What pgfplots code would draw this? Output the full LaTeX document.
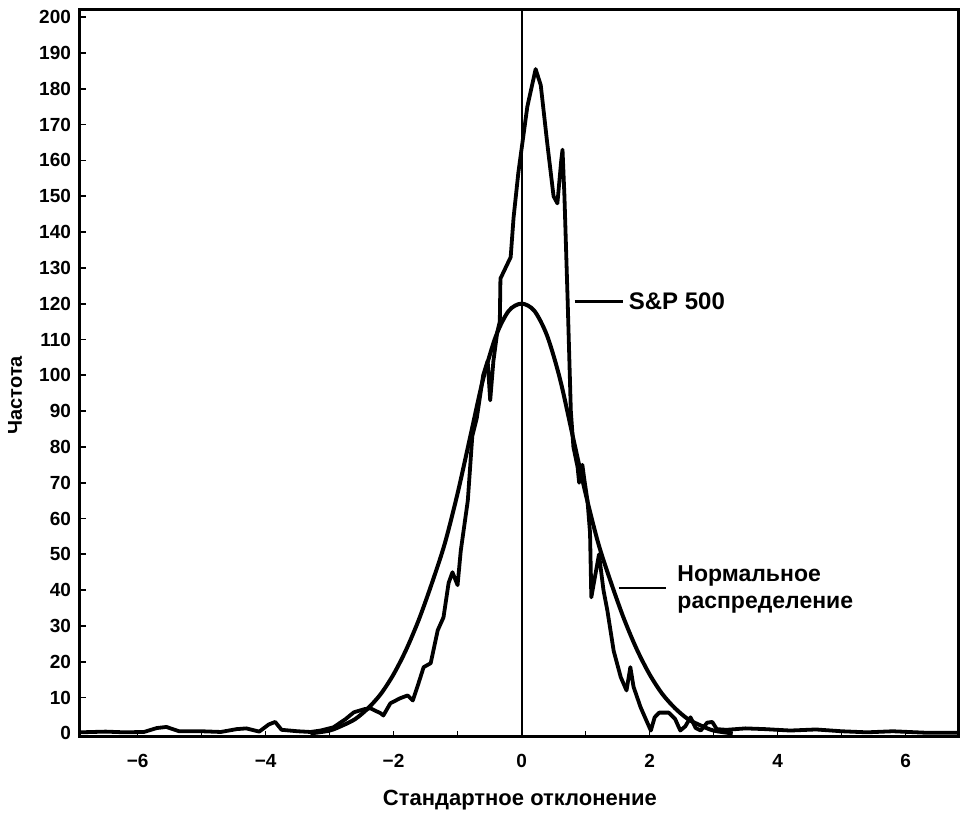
\documentclass[border=0pt]{standalone}
\usepackage{pgfplots}
\pgfplotsset{compat=1.18}
\usepackage{fontspec}
\setmainfont{Liberation Sans}
\begin{document}
\begin{tikzpicture}
\begin{axis}[
  scale only axis,
  width=439pt, height=363.5pt,
  xmin=-6.9, xmax=6.82, ymin=-1, ymax=202,
  axis line style={line width=1.5pt},
  xtick={-6,-4,-2,0,2,4,6},
  xticklabels={−6,−4,−2,0,2,4,6},
  minor xtick={-5,-3,-1,1,3,5},
  ytick={0,10,...,200},
  tick align=inside,
  major tick length=3pt, minor tick length=3pt,
  tick style={line width=0.9pt, black},
  xtick pos=bottom, ytick pos=left,
  /pgf/number format/assume math mode=true,
  tick label style={font=\fontsize{9.5}{10}\selectfont\bfseries},
  xticklabel style={yshift=-5pt},
  yticklabel style={xshift=-1pt},
  xlabel={Стандартное отклонение},
  ylabel={Частота},
  xlabel style={font=\fontsize{11}{12}\selectfont\bfseries, at={(axis description cs:0.501,-0.0867)}, anchor=center},
  ylabel style={font=\fontsize{10}{12}\selectfont\bfseries, at={(axis description cs:-0.074,0.47)}, anchor=center, rotate=0},
  clip=false,
]
% vertical zero line
\addplot[black, line width=1pt] coordinates {(0,-1) (0,202)};
% normal distribution
\addplot[black, line width=2pt, smooth] coordinates {
(-3.3,0) (-3.0,0.8) (-2.8,2.2) (-2.6,4) (-2.4,7) (-2.2,11) (-2.0,16.5) (-1.8,23.5) (-1.6,32) (-1.4,42) (-1.2,53) (-1.0,67) (-0.8,83) (-0.6,99) (-0.4,111) (-0.2,118) (0,120)
(0.2,118) (0.4,111) (0.6,99) (0.8,83) (1.0,67) (1.2,53) (1.4,42) (1.6,32) (1.8,23.5) (2.0,16.5) (2.2,11) (2.4,7) (2.6,4) (2.8,2.2) (3.0,0.8) (3.3,0)
};
% S&P 500
\addplot[black, line width=1.9pt, line join=round] coordinates {
(-6.9,0.3) (-6.5,0.5) (-6.2,0.3) (-5.9,0.4) (-5.7,1.5) (-5.55,1.8) (-5.35,0.6) (-5.0,0.6) (-4.7,0.4) (-4.45,1.2) (-4.3,1.4) (-4.1,0.5) (-3.95,2.5) (-3.85,3.2) (-3.75,1.0) (-3.5,0.6) (-3.3,0.4) (-3.14,0.8) (-2.94,1.7) (-2.75,4.0) (-2.62,5.9) (-2.45,6.8) (-2.36,7) (-2.2,5.6) (-2.16,5) (-2.05,8.4) (-1.9,9.8) (-1.78,10.6) (-1.7,9.2) (-1.63,12.9) (-1.53,18.5) (-1.42,19.6) (-1.31,28.8) (-1.22,32.4) (-1.14,42) (-1.08,45) (-1.0,41.4) (-0.95,51) (-0.84,65) (-0.77,83) (-0.7,88) (-0.6,100) (-0.53,104) (-0.49,93) (-0.44,104) (-0.38,112) (-0.34,115) (-0.33,127) (-0.17,133) (-0.125,144) (-0.05,156.6) (0.09,175) (0.22,185.5) (0.3,181) (0.4,165) (0.5,150) (0.56,148) (0.62,160) (0.64,163) (0.67,150) (0.72,121) (0.77,90) (0.81,80) (0.875,74.4) (0.9,70) (0.95,75) (0.98,71) (1.03,65) (1.07,56) (1.09,38) (1.17,46) (1.21,50) (1.28,40) (1.34,34.4) (1.44,23) (1.55,15.7) (1.64,12) (1.7,18.5) (1.75,13) (1.86,7.3) (1.97,2.8) (2.02,0.8) (2.08,4.5) (2.15,5.8) (2.3,5.8) (2.4,4) (2.48,0.8) (2.56,2) (2.64,4.5) (2.72,1.5) (2.8,0.8) (2.9,3) (2.98,3.2) (3.05,1.2) (3.2,1.0) (3.5,1.4) (3.8,1.2) (4.2,0.8) (4.6,1.1) (5.0,0.6) (5.4,0.3) (5.8,0.6) (6.3,0.2) (6.82,0.2)
};
% annotations
\draw[line width=1.5pt] (axis cs:0.83,120.6) -- (axis cs:1.58,120.6);
\node[anchor=west, font=\fontsize{12}{13}\selectfont\bfseries, inner sep=0pt] at (axis cs:1.67,120.6) {S\&P 500};
\draw[line width=1.3pt] (axis cs:1.52,40.6) -- (axis cs:2.25,40.6);
\node[anchor=west, align=left, font=\fontsize{11.5}{13.5}\selectfont\bfseries, inner sep=0pt] at (axis cs:2.43,40.3) {Нормальное\\распределение};
\end{axis}
\pgfresetboundingbox
\path (current axis.south west) ++(-40pt,-38pt) coordinate (bl);
\path (current axis.north east) ++(5pt,5pt) coordinate (tr);
\path (bl) rectangle (tr);
\end{tikzpicture}
\end{document}
